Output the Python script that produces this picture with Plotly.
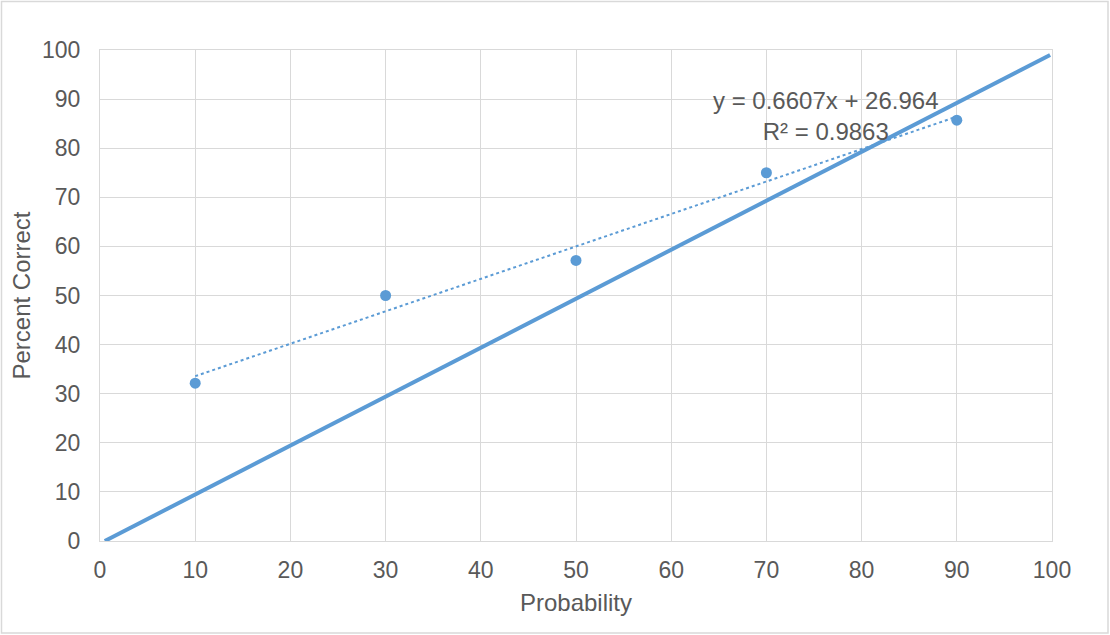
import numpy as np
import plotly.graph_objects as go

probability = [10, 30, 50, 70, 90]
percent_correct = [32.14, 50, 57.14, 75, 85.71]
ideal_x = [0.5, 99.8]
ideal_y = [0, 99]
trend_label = "y = 0.6607x + 26.964<br>R² = 0.9863"

blue = "#5b9bd5"
grid = "#d9d9d9"
txt = "#595959"
font = "Liberation Sans, Arial, sans-serif"

slope, intercept = np.polyfit(probability, percent_correct, 1)
trend_x = [probability[0], probability[-1]]
trend_y = [slope * v + intercept for v in trend_x]

fig = go.Figure()
fig.add_trace(go.Scatter(x=ideal_x, y=ideal_y, mode="lines",
                         line=dict(color=blue, width=4), hoverinfo="skip"))
fig.add_trace(go.Scatter(x=trend_x, y=trend_y, mode="lines",
                         line=dict(color=blue, width=2, dash="dot")))
fig.add_trace(go.Scatter(x=probability, y=percent_correct, mode="markers",
                         marker=dict(color=blue, size=11)))

W, H = 1110, 635
L, R, T, B = 100, 58, 50, 94
pw, ph = W - L - R, H - T - B

def px(x):
    return (x - L) / pw

def py(y):
    return (H - B - y) / ph

fig.add_shape(type="rect", xref="paper", yref="paper",
              x0=px(1.5), x1=px(1108), y0=py(1.5), y1=py(633),
              line=dict(color=grid, width=1.5), fillcolor="rgba(0,0,0,0)", layer="below")

fig.add_annotation(x=76.3, y=86.5, xref="x", yref="y", text=trend_label,
                   showarrow=False, align="center",
                   font=dict(family=font, size=24, color=txt))

fig.update_layout(
    width=W, height=H,
    margin=dict(l=L, r=R, t=T, b=B),
    paper_bgcolor="white", plot_bgcolor="white",
    showlegend=False,
    font=dict(family=font, size=23, color=txt),
    xaxis=dict(range=[0, 100], dtick=10, tick0=0, showgrid=True, gridcolor=grid,
               gridwidth=1, zeroline=False, showline=True, linecolor=grid, mirror=True,
               ticks="", ticklabelstandoff=8,
               title=dict(text="Probability", font=dict(size=24, color=txt), standoff=12)),
    yaxis=dict(range=[0, 100], dtick=10, tick0=0, showgrid=True, gridcolor=grid,
               gridwidth=1, zeroline=False, showline=True, linecolor=grid, mirror=True,
               ticks="", ticklabelstandoff=14,
               title=dict(text="Percent Correct", font=dict(size=24, color=txt), standoff=4)),
)

fig.write_html("out.html", config={"displayModeBar": False},
               post_script="document.body.style.margin='0';")
